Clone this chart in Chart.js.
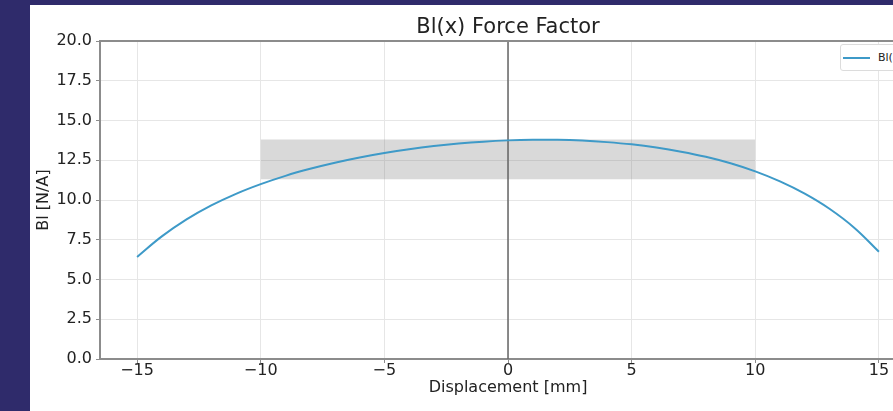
<!DOCTYPE html>
<html>
<head>
<meta charset="utf-8">
<title>Bl(x) Force Factor</title>
<script src="https://cdn.jsdelivr.net/npm/chart.js@4.4.0/dist/chart.umd.min.js"></script>
<style>
    html, body { margin: 0; padding: 0; }
    body { background: #2f2b6b; width: 893px; height: 411px; overflow: hidden; position: relative; }
    #panel { position: absolute; left: 30px; top: 5px; width: 930px; height: 406px; background: #fff; }
    #legend-div {
        position: absolute; left: 810px; top: 39px; height: 25px;
        display: flex; align-items: center;
        border: 1px solid #dcdcdc; border-radius: 3px; background: #fff;
        padding: 0 8px 0 2px;
        font: 11px "DejaVu Sans", sans-serif; color: #222;
    }
    #legend-div .sw { display: inline-block; width: 27px; height: 2px; margin-right: 8px; }
</style>
</head>
<body>
<div id="panel">
    <canvas id="blChartCanvas"></canvas>
    <div id="legend-div"></div>
</div>
<script>
// displacement in mm, Bl in N/A
const displacement = [-15, -14, -13, -12, -11, -10, -9, -8, -7, -6, -5, -4, -3, -2, -1, 0,
                      1, 2, 3, 4, 5, 6, 7, 8, 9, 10, 11, 12, 13, 14, 15];
const blValues = [6.42, 7.71, 8.78, 9.66, 10.39, 11.00, 11.52, 11.96, 12.34, 12.67, 12.95,
                  13.19, 13.39, 13.55, 13.67, 13.75, 13.79, 13.79, 13.74, 13.64, 13.50,
                  13.30, 13.04, 12.72, 12.31, 11.80, 11.17, 10.40, 9.45, 8.26, 6.75];

// shaded region
const bandX = [-10, 10];
const bandY = [11.31, 13.8];

// vertical marker at x = 0
const zeroLineX = [0, 0];
const zeroLineY = [0, 20];

const lineColor = 'rgb(62, 154, 200)';

let toPoints = function (xs, ys) {
    return xs.map(function (x, i) { return { x: x, y: ys[i] }; });
};

let topSpine = {
    id: 'topSpine',
    afterDraw: function (chart) {
        let ctx = chart.ctx, a = chart.chartArea;
        ctx.save();
        ctx.strokeStyle = '#8c8c8c';
        ctx.lineWidth = 2;
        ctx.beginPath();
        ctx.moveTo(a.left - 1, a.top);
        ctx.lineTo(a.right, a.top);
        ctx.stroke();
        ctx.restore();
    }
};

let minus = function (v) {
    return v < 0 ? '\u2212' + Math.abs(v) : String(v);
};

let ctx = document.getElementById('blChartCanvas').getContext('2d');

window.blChart = new Chart(ctx, {
    type: 'line',
    data: {
        datasets: [
            {
                label: 'Bl(x)',
                data: toPoints(displacement, blValues),
                borderColor: lineColor,
                borderWidth: 2,
                pointRadius: 0,
                tension: 0.4,
                fill: false
            },
            {
                label: 'zero',
                data: toPoints(zeroLineX, zeroLineY),
                borderColor: '#666',
                borderWidth: 1.5,
                pointRadius: 0,
                fill: false
            },
            {
                label: 'band top',
                data: toPoints(bandX, [bandY[1], bandY[1]]),
                borderWidth: 0,
                borderColor: 'rgba(0,0,0,0)',
                pointRadius: 0,
                fill: false
            },
            {
                label: 'band bottom',
                data: toPoints(bandX, [bandY[0], bandY[0]]),
                borderWidth: 0,
                borderColor: 'rgba(0,0,0,0)',
                backgroundColor: 'rgba(128,128,128,0.3)',
                pointRadius: 0,
                fill: '-1'
            }
        ]
    },
    options: {
        responsive: true,
        maintainAspectRatio: false,
        animation: false,
        layout: { padding: { left: 0, right: 44, top: 0, bottom: 0 } },
        plugins: {
            legend: { display: false },
            tooltip: { enabled: false },
            title: {
                display: true,
                text: 'Bl(x) Force Factor',
                fullSize: false,
                color: '#222',
                font: { family: 'DejaVu Sans', size: 21, weight: 'normal', lineHeight: 1.2 },
                padding: { top: 10, bottom: 0.8 }
            }
        },
        scales: {
            x: {
                type: 'linear',
                min: -16.5,
                max: 16.5,
                afterFit: function (scale) { scale.height = 52; },
                ticks: {
                    stepSize: 5,
                    includeBounds: false,
                    padding: 0,
                    color: '#222',
                    maxRotation: 0,
                    font: { family: 'DejaVu Sans', size: 16, lineHeight: 1 },
                    callback: function (v) { return minus(v); }
                },
                grid: { color: '#e6e6e6', tickColor: '#8c8c8c', tickLength: 4, lineWidth: 1 },
                border: { color: '#8c8c8c', width: 2 },
                title: {
                    display: true,
                    text: 'Displacement [mm]',
                    color: '#222',
                    font: { family: 'DejaVu Sans', size: 16 },
                    padding: { top: 0, bottom: 13.4 }
                }
            },
            y: {
                min: 0,
                max: 20,
                afterFit: function (scale) { scale.width = 70; },
                ticks: {
                    stepSize: 2.5,
                    padding: 4,
                    color: '#222',
                    font: { family: 'DejaVu Sans', size: 16 },
                    callback: function (v) { return v.toFixed(1); }
                },
                grid: { color: '#e6e6e6', tickColor: '#8c8c8c', tickLength: 4, lineWidth: 1 },
                border: { color: '#8c8c8c', width: 2 },
                title: {
                    display: true,
                    text: 'Bl [N/A]',
                    color: '#222',
                    font: { family: 'DejaVu Sans', size: 16 },
                    padding: { top: 4.4, bottom: 0 }
                }
            }
        }
    },
    plugins: [topSpine]
});

// html legend for the curve only
let legendDraw = function (chart) {
    let ds = chart.data.datasets[0];
    document.getElementById('legend-div').innerHTML =
        "<span class='sw' style='background-color: " + ds.borderColor + "'></span>" + ds.label;
};
legendDraw(window.blChart);
</script>
</body>
</html>
